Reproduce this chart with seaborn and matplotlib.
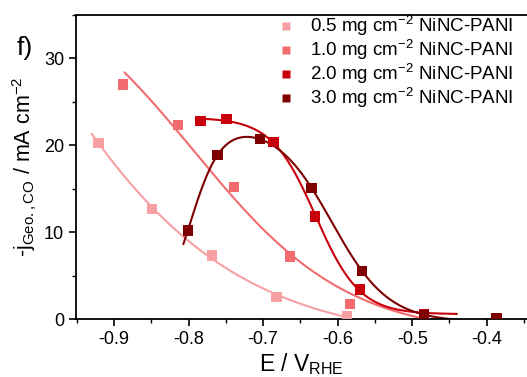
import numpy as np
import pandas as pd
import matplotlib
matplotlib.use("Agg")
import matplotlib.pyplot as plt
import seaborn as sns
from matplotlib.ticker import MultipleLocator

# ---- data ----
labels = ["0.5 mg cm$^{\\mathregular{-2}}$ NiNC-PANI",
          "1.0 mg cm$^{\\mathregular{-2}}$ NiNC-PANI",
          "2.0 mg cm$^{\\mathregular{-2}}$ NiNC-PANI",
          "3.0 mg cm$^{\\mathregular{-2}}$ NiNC-PANI"]
colors = ["#f7a0a4", "#f26c6f", "#c8000c", "#7e0000"]

E_05 = [-0.921, -0.849, -0.769, -0.682, -0.587]
j_05 = [20.3, 12.7, 7.3, 2.5, 0.3]

E_10 = [-0.888, -0.814, -0.739, -0.664, -0.583]
j_10 = [27.0, 22.3, 15.2, 7.2, 1.7]

E_20 = [-0.784, -0.749, -0.686, -0.630, -0.570, -0.484]
j_20 = [22.8, 23.0, 20.4, 11.8, 3.4, 0.6]

E_30 = [-0.801, -0.761, -0.704, -0.635, -0.567, -0.484, -0.387]
j_30 = [10.2, 18.9, 20.7, 15.1, 5.5, 0.5, 0.1]

# samples of the drawn fit curve for 1.0 mg
fitE_10 = [-0.886, -0.814, -0.772, -0.739, -0.683, -0.664, -0.580, -0.472]
fitj_10 = [28.5, 21.3, 17.1, 14.0, 9.4, 7.5, 2.2, 0.1]

# ranges over which the fitted curves are drawn
fit_start = [-0.93, -0.886, -0.785, -0.807]
fit_end = [-0.59, -0.44, -0.44, -0.44]

Es = [E_05, E_10, E_20, E_30]
js = [j_05, j_10, j_20, j_30]
fitE = [E_05, fitE_10, E_20, E_30[:-1]]
fitj = [j_05, fitj_10, j_20, j_30[:-1]]


def boltz(x, p):
    return p[1] + (p[0] - p[1]) / (1 + np.exp((x - p[2]) / p[3]))


def peak(x, p):
    return p[0] / (1 + np.exp(-(x - p[1]) / p[2])) / (1 + np.exp((x - p[3]) / p[4])) + p[5]


def lm_fit(f, p0, x, y, iters=400):
    x = np.asarray(x, float)
    y = np.asarray(y, float)
    p = np.asarray(p0, float)
    lam = 1e-2
    cost = np.sum((y - f(x, p)) ** 2)
    for _ in range(iters):
        r = y - f(x, p)
        J = np.empty((len(x), len(p)))
        for k in range(len(p)):
            dp = np.zeros_like(p)
            h = 1e-6 * max(abs(p[k]), 1e-3)
            dp[k] = h
            J[:, k] = (f(x, p + dp) - f(x, p - dp)) / (2 * h)
        A = J.T @ J
        g = J.T @ r
        step = np.linalg.solve(A + lam * np.diag(np.diag(A) + 1e-12), g)
        pn = p + step
        cn = np.sum((y - f(x, pn)) ** 2)
        if np.isfinite(cn) and cn < cost:
            p, cost = pn, cn
            lam /= 3
        else:
            lam *= 3
    return p


models = [boltz, boltz, boltz, peak]
guesses = [[40, -1, -0.85, 0.08], [36, -1, -0.76, 0.08],
           [23, -0.5, -0.64, 0.035], [25, -0.8, 0.02, -0.62, 0.04, -0.5]]

sns.set_theme(style="ticks")
plt.rcParams['font.family'] = ['Liberation Sans', 'DejaVu Sans']
plt.rcParams['mathtext.fontset'] = 'custom'
plt.rcParams['mathtext.rm'] = 'Liberation Sans'
plt.rcParams['mathtext.it'] = 'Liberation Sans:italic'
plt.rcParams['mathtext.bf'] = 'Liberation Sans:bold'
for k in ['text.color', 'axes.labelcolor', 'xtick.color', 'ytick.color', 'axes.edgecolor']:
    plt.rcParams[k] = 'black'

fig = plt.figure(figsize=(5.27, 3.77), dpi=100)
ax = fig.add_axes([0.1442, 0.1538, 0.8558, 0.8064])

pts = pd.concat([pd.DataFrame({"E": e, "j": j, "s": lab})
                 for e, j, lab in zip(Es, js, labels)], ignore_index=True)

curves = []
for e, j, lab, a, b, f, g in zip(fitE, fitj, labels, fit_start, fit_end, models, guesses):
    p = lm_fit(f, g, e, j)
    xx = np.linspace(a, b, 400)
    curves.append(pd.DataFrame({"E": xx, "j": f(xx, p), "s": lab}))
curves = pd.concat(curves, ignore_index=True)

pal = dict(zip(labels, colors))
sns.lineplot(data=curves, x="E", y="j", hue="s", palette=pal, ax=ax,
             legend=False, lw=1.5, zorder=2)
sns.scatterplot(data=pts, x="E", y="j", hue="s", palette=pal, ax=ax,
                marker="s", s=55, edgecolor="none", zorder=3)

ax.set_xlim(-0.951, -0.346)
ax.set_ylim(0, 35)
ax.xaxis.set_minor_locator(MultipleLocator(0.05))
ax.yaxis.set_minor_locator(MultipleLocator(5))
ax.set_xticks([-0.9, -0.8, -0.7, -0.6, -0.5, -0.4])
ax.set_xticklabels(["-0.9", "-0.8", "-0.7", "-0.6", "-0.5", "-0.4"])
ax.set_yticks([0, 10, 20, 30])
ax.tick_params(which="major", length=5, width=1.2, labelsize=13, direction="out",
               color="black", labelcolor="black")
ax.tick_params(which="minor", length=3, width=1.0, direction="out", color="black")
for s in ["left", "bottom", "top"]:
    ax.spines[s].set_linewidth(1.3)
    ax.spines[s].set_color("black")
ax.spines["right"].set_visible(False)

ax.set_xlabel("E / V$_{\\mathregular{RHE}}$", fontsize=16.5, labelpad=2, color="black")
ax.set_ylabel("-j$_{\\mathregular{Geo., CO}}$ / mA cm$^{\\mathregular{-2}}$", fontsize=15.5,
              labelpad=4, color="black")

h, l = ax.get_legend_handles_labels()
leg = ax.legend(h, l, loc="upper right", bbox_to_anchor=(0.995, 1.04), frameon=False,
                fontsize=13.5, handletextpad=0.3, labelspacing=0.0, markerscale=0.7,
                borderaxespad=0.2, labelcolor="black")

fig.text(0.032, 0.855, "f)", fontsize=19, color="black")

fig.savefig("out.png", dpi=100)
